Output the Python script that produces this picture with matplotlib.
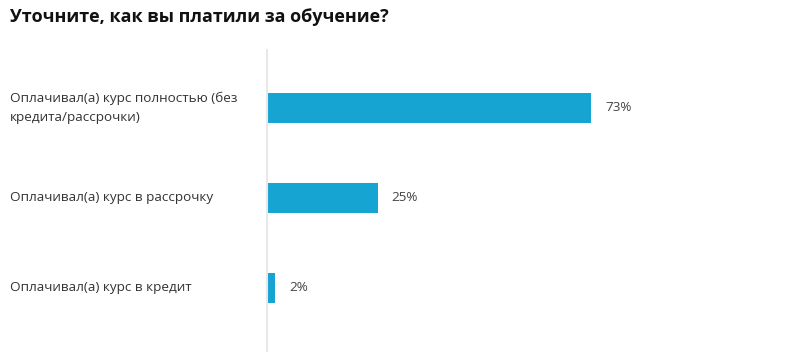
import matplotlib
matplotlib.use('Agg')
import matplotlib.pyplot as plt
import matplotlib.transforms as mtransforms

plt.rcParams['font.family'] = ['Open Sans', 'DejaVu Sans']

# Survey answers and shares (%)
categories = ['Оплачивал(а) курс полностью (без\nкредита/рассрочки)',
              'Оплачивал(а) курс в рассрочку',
              'Оплачивал(а) курс в кредит']
values = [73, 25, 2]
title = 'Уточните, как вы платили за обучение?'

W, H = 792, 352
fig = plt.figure(figsize=(W / 100, H / 100), dpi=100)

# axes placed in pixel terms: left edge at the grey divider
ax = fig.add_axes([266.5 / W, 0, 445 / W, 1 - 50 / H])
pos = list(range(len(values)))
ax.barh(pos, values, height=0.333, color='#16a4d2', left=0)
ax.set_xlim(0, 100)
ax.set_ylim(2.711, -0.644)

for s in ['top', 'right', 'bottom']:
    ax.spines[s].set_visible(False)
ax.spines['left'].set_color('#e8e8e8')
ax.spines['left'].set_linewidth(1.5)
ax.set_xticks([])
ax.set_yticks([])

trans = mtransforms.blended_transform_factory(fig.transFigure, ax.transData)
for p, cat, v in zip(pos, categories, values):
    ax.text(10 / W, p, cat, transform=trans, ha='left', va='center',
            fontsize=9.7, color='#333333', linespacing=1.55)
    ax.text(v + 14 / 4.45, p, f'{v}%', ha='left', va='center',
            fontsize=9.7, color='#444444')

fig.text(10 / W, 1 - 17 / H, title, ha='left', va='center',
         fontsize=13, fontweight='bold', color='#111111')

plt.savefig('out.png', dpi=100)
